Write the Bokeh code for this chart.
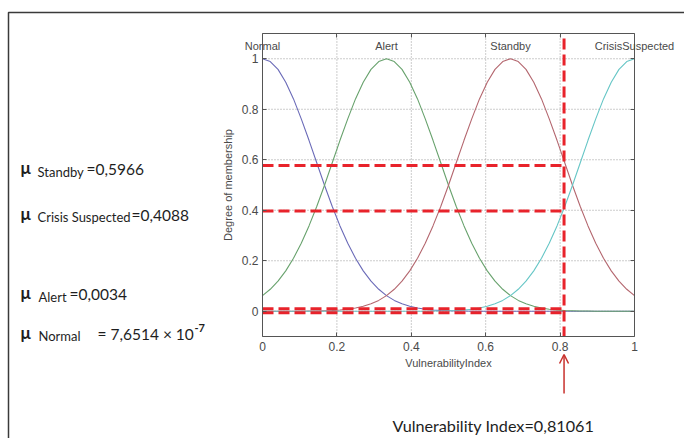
from bokeh.plotting import figure
from bokeh.models import Range1d, FixedTicker, LinearAxis, Label, Arrow, OpenHead
from bokeh.embed import file_html
from bokeh.resources import INLINE

# ---------------- data ----------------
x_vals = [0.0, 0.0208, 0.0417, 0.0625, 0.0833, 0.1042, 0.125, 0.1458, 0.1667, 0.1875,
          0.2083, 0.2292, 0.25, 0.2708, 0.2917, 0.3125, 0.3333, 0.3542, 0.375, 0.3958,
          0.4167, 0.4375, 0.4583, 0.4792, 0.5, 0.5208, 0.5417, 0.5625, 0.5833, 0.6042,
          0.625, 0.6458, 0.6667, 0.6875, 0.7083, 0.7292, 0.75, 0.7708, 0.7917, 0.8125,
          0.8333, 0.8542, 0.875, 0.8958, 0.9167, 0.9375, 0.9583, 0.9792, 1.0]

normal = [1.000, 0.989, 0.958, 0.907, 0.841, 0.762, 0.677, 0.588, 0.499, 0.415,
          0.338, 0.269, 0.210, 0.160, 0.119, 0.087, 0.062, 0.043, 0.030, 0.020,
          0.013, 0.008, 0.005, 0.003, 0.002, 0.001, 0.001, 0.0, 0.0, 0.0,
          0.0, 0.0, 0.0, 0.0, 0.0, 0.0, 0.0, 0.0, 0.0, 0.0,
          0.0, 0.0, 0.0, 0.0, 0.0, 0.0, 0.0, 0.0, 0.0]

alert = [0.062, 0.087, 0.119, 0.160, 0.210, 0.269, 0.338, 0.415, 0.499, 0.588,
         0.677, 0.762, 0.841, 0.907, 0.958, 0.989, 1.000, 0.989, 0.958, 0.907,
         0.841, 0.762, 0.677, 0.588, 0.499, 0.415, 0.338, 0.269, 0.210, 0.160,
         0.119, 0.087, 0.062, 0.043, 0.030, 0.020, 0.013, 0.008, 0.005, 0.003,
         0.002, 0.001, 0.001, 0.0, 0.0, 0.0, 0.0, 0.0, 0.0]

standby = [0.0, 0.0, 0.0, 0.0, 0.0, 0.0, 0.001, 0.001, 0.002, 0.003,
           0.005, 0.008, 0.013, 0.020, 0.030, 0.043, 0.062, 0.087, 0.119, 0.160,
           0.210, 0.269, 0.338, 0.415, 0.499, 0.588, 0.677, 0.762, 0.841, 0.907,
           0.958, 0.989, 1.000, 0.989, 0.958, 0.907, 0.841, 0.762, 0.677, 0.588,
           0.499, 0.415, 0.338, 0.269, 0.210, 0.160, 0.119, 0.087, 0.062]

crisis = [0.0, 0.0, 0.0, 0.0, 0.0, 0.0, 0.0, 0.0, 0.0, 0.0,
          0.0, 0.0, 0.0, 0.0, 0.0, 0.0, 0.0, 0.0, 0.0, 0.0,
          0.0, 0.0, 0.001, 0.001, 0.002, 0.003, 0.005, 0.008, 0.013, 0.020,
          0.030, 0.043, 0.062, 0.087, 0.119, 0.160, 0.210, 0.269, 0.338, 0.415,
          0.499, 0.588, 0.677, 0.762, 0.841, 0.907, 0.958, 0.989, 1.000]

mf_names = ["Normal", "Alert", "Standby", "CrisisSuspected"]
mf_centers = [0.0, 0.3333, 0.6667, 1.0]
mf_colors = ["#6b6bb8", "#68a26d", "#b4676f", "#66c6c6"]

vuln_index = 0.81061
guide_levels = [0.577, 0.397, 0.010, -0.006]   # red dashed guides as drawn

mu_names = ["Standby", "Crisis Suspected", "Alert", "Normal"]
mu_values = ["=0,5966", "=0,4088", "=0,0034", "= 7,6514 \u00d7 10"]
mu_exponent = "-7"
vi_text = "Vulnerability Index=0,81061"

x_ticks = [0, 0.2, 0.4, 0.6, 0.8, 1]
x_tick_labels = ["0", "0.2", "0.4", "0.6", "0.8", "1"]
y_ticks = [0, 0.2, 0.4, 0.6, 0.8, 1]
y_tick_labels = ["0", "0.2", "0.4", "0.6", "0.8", "1"]

# ---------------- geometry of the page ----------------
W, H = 684, 438
FL, FR, FT, FB = 262, 634, 33, 336          # chart box in page pixels
XMIN, XMAX, YMIN, YMAX = 0.0, 1.0, -0.1, 1.1  # chart data limits

def dx(px):
    return XMIN + (px - FL) / (FR - FL) * (XMAX - XMIN)

def dy(py):
    return YMIN + (FB - py) / (FB - FT) * (YMAX - YMIN)

p = figure(width=W, height=H, output_backend="svg", toolbar_location=None, title=None,
           x_range=Range1d(dx(0), dx(W)), y_range=Range1d(dy(H), dy(0)),
           min_border=0, min_border_left=0, min_border_right=0,
           min_border_top=0, min_border_bottom=0)
p.background_fill_color = "white"
p.border_fill_color = "white"
p.outline_line_color = None
p.xgrid.visible = False
p.ygrid.visible = False

AX_FONT = "Liberation Sans"
TICK_COLOR = "#4a4a4a"
BOX = "#555555"

def style_axis(ax, ticks, labels, show_labels):
    ax.ticker = FixedTicker(ticks=ticks)
    ax.major_label_overrides = {t: l for t, l in zip(ticks, labels)}
    ax.major_tick_in = 4
    ax.major_tick_out = 0
    ax.minor_tick_line_color = None
    ax.axis_line_color = BOX
    ax.major_tick_line_color = BOX
    ax.major_label_text_font = AX_FONT
    ax.major_label_text_font_size = "12px"
    ax.major_label_text_color = TICK_COLOR if show_labels else None
    ax.axis_label_text_font = AX_FONT
    ax.axis_label_text_font_size = "11px"
    ax.axis_label_text_font_style = "normal"
    ax.axis_label_text_color = TICK_COLOR

xb = p.xaxis[0]
style_axis(xb, x_ticks, x_tick_labels, True)
xb.fixed_location = YMIN
xb.bounds = (XMIN, XMAX)
xb.axis_label = "VulnerabilityIndex"
xb.major_label_standoff = 5
xb.axis_label_standoff = 3

yl = p.yaxis[0]
style_axis(yl, y_ticks, y_tick_labels, True)
yl.fixed_location = XMIN
yl.bounds = (YMIN, YMAX)
yl.axis_label = "Degree of membership"
yl.major_label_standoff = 4
yl.axis_label_standoff = 5

xt = LinearAxis()
style_axis(xt, x_ticks, x_tick_labels, False)
xt.fixed_location = YMAX
xt.bounds = (XMIN, XMAX)
p.add_layout(xt, "above")

yr = LinearAxis()
style_axis(yr, y_ticks, y_tick_labels, False)
yr.fixed_location = XMAX
yr.bounds = (YMIN, YMAX)
p.add_layout(yr, "right")

# dotted grid inside the chart box
gx = x_ticks[1:-1]
gy = y_ticks
p.segment(x0=gx, y0=[YMIN] * len(gx), x1=gx, y1=[YMAX] * len(gx),
          line_color="#9a9a9a", line_width=1, line_dash="1 2")
p.segment(x0=[XMIN] * len(gy), y0=gy, x1=[XMAX] * len(gy), y1=gy,
          line_color="#9a9a9a", line_width=1, line_dash="1 2")

# membership curves
for ys, col in zip([normal, alert, standby, crisis], mf_colors):
    p.line(x_vals, ys, line_color=col, line_width=1.1)

# membership function names
for name, cx in zip(mf_names, mf_centers):
    p.add_layout(Label(x=cx, y=dy(45), text=name, text_align="center", text_baseline="middle",
                       text_font=AX_FONT, text_font_size="11px", text_color=TICK_COLOR))

# red dashed guides
RED = "#e8232b"
n = len(guide_levels)
p.segment(x0=[XMIN] * n, y0=guide_levels, x1=[vuln_index] * n, y1=guide_levels,
          line_color=RED, line_width=3, line_dash="11 5")
p.segment(x0=[vuln_index], y0=[YMAX - 0.02], x1=[vuln_index], y1=[YMIN],
          line_color=RED, line_width=3, line_dash="11 5")

# arrow under the axis
p.add_layout(Arrow(x_start=vuln_index, y_start=dy(393), x_end=vuln_index, y_end=dy(354),
                   line_color="#c8302c", line_width=1.5,
                   end=OpenHead(size=9, line_color="#c8302c", line_width=1.5)))

TXT_FONT = "Lato"
TXT_COLOR = "#1e1e1e"
p.add_layout(Label(x=dx(392), y=dy(425), text=vi_text, text_align="left",
                   text_baseline="alphabetic", text_font=TXT_FONT, text_font_size="16.2px",
                   text_color=TXT_COLOR))

# left annotations
rows_base = [168, 214, 293, 333]
sub_base = [171, 216, 296, 335]
sub_x = [37, 37, 38, 38]
eq_x = [86, 131, 69, 97]
for name, val, b, sb, sx, ex in zip(mu_names, mu_values, rows_base, sub_base, sub_x, eq_x):
    p.add_layout(Label(x=dx(20), y=dy(b - 1), text="\u03bc", text_align="left",
                       text_baseline="alphabetic", text_font=TXT_FONT, text_font_size="17px",
                       text_font_style="bold", text_color=TXT_COLOR))
    p.add_layout(Label(x=dx(sx), y=dy(sb), text=name, text_align="left",
                       text_baseline="alphabetic", text_font=TXT_FONT, text_font_size="13px",
                       text_color=TXT_COLOR))
    p.add_layout(Label(x=dx(ex), y=dy(b), text=val, text_align="left",
                       text_baseline="alphabetic", text_font=TXT_FONT, text_font_size="15.5px",
                       text_color=TXT_COLOR))
p.add_layout(Label(x=dx(194), y=dy(327), text=mu_exponent, text_align="left",
                   text_baseline="alphabetic", text_font=TXT_FONT, text_font_size="11px",
                   text_font_style="bold", text_color=TXT_COLOR))

# outer frame (top and left edges)
p.line([dx(8), dx(8), dx(W)], [dy(H), dy(12), dy(12)], line_color="#3a3a3a", line_width=1.5)

open("out.html", "w").write(file_html(p, INLINE))
